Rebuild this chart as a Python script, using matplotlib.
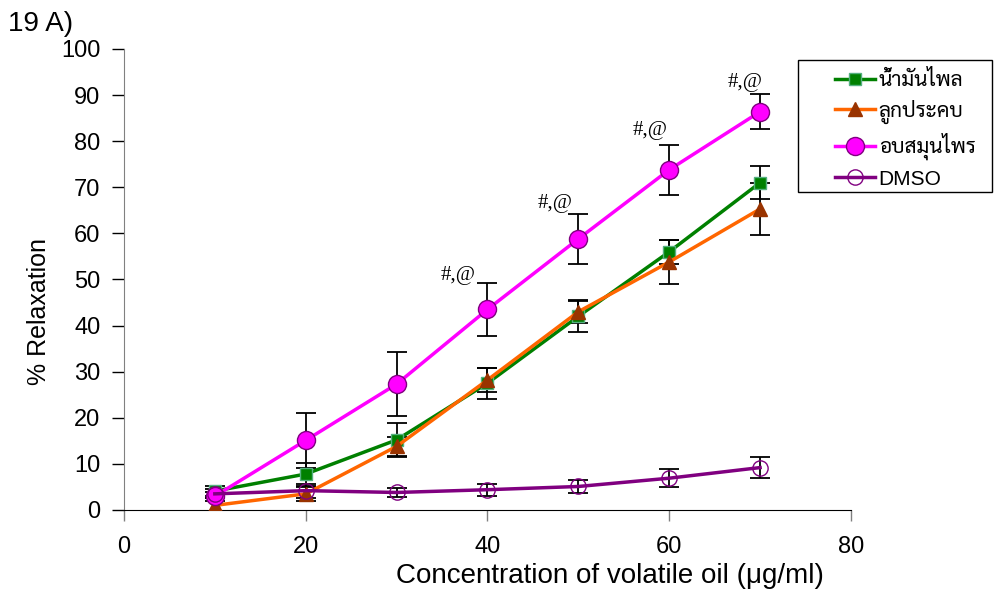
import numpy as np
import matplotlib.pyplot as plt
from matplotlib import font_manager
from matplotlib.ft2font import FT2Font
from matplotlib.patches import Rectangle

# หา font ที่มีตัวอักษรไทย
thai_names = set()
for f in font_manager.findSystemFonts():
    try:
        if 0x0E19 in FT2Font(f).get_charmap():
            thai_names.add(font_manager.FontProperties(fname=f).get_name())
    except Exception:
        pass
pref = ['Tahoma', 'Sarabun', 'Noto Sans Thai Looped', 'IBM Plex Sans Thai Looped',
        'Loma', 'Garuda', 'Noto Sans Thai', 'Anuphan']
thai_font = next((n for n in pref if n in thai_names), None)
if thai_font is None and thai_names:
    thai_font = sorted(thai_names)[0]

conc = [10, 20, 30, 40, 50, 60, 70]
names = ['น้ำมันไพล', 'ลูกประคบ', 'อบสมุนไพร', 'DMSO']

plai = [4.1, 7.8, 15.2, 27.5, 42.0, 56.0, 71.0]
plai_err = [1.0, 2.5, 3.6, 3.4, 3.4, 2.6, 3.6]
lukprakob = [1.0, 3.5, 13.8, 28.2, 43.0, 53.8, 65.3]
lukprakob_err = [1.5, 1.5, 2.0, 2.7, 2.5, 4.8, 5.6]
obsamunprai = [3.0, 15.1, 27.3, 43.5, 58.8, 73.8, 86.4]
obsamunprai_err = [1.0, 5.9, 7.0, 5.8, 5.4, 5.4, 3.8]
dmso = [3.5, 4.2, 3.8, 4.4, 5.1, 6.9, 9.2]
dmso_err = [1.0, 1.5, 1.0, 1.3, 1.4, 2.0, 2.3]

# ตำแหน่งเครื่องหมาย #,@
sig_x = [36.8, 47.4, 57.9, 68.4]
sig_y = [49.9, 65.5, 81.3, 91.8]

plt.rcParams['font.family'] = ['Liberation Sans', 'DejaVu Sans']

fig = plt.figure(figsize=(9.94, 5.9), dpi=100)
ax = fig.add_axes([0.1247, 0.1356, 0.7314, 0.7814])

series = [
    (plai, plai_err, dict(color='#008000', marker='s', ms=9, mfc='#008000', mec='#55b080')),
    (lukprakob, lukprakob_err, dict(color='#ff6600', marker='^', ms=10, mfc='#993300', mec='#993300')),
    (obsamunprai, obsamunprai_err, dict(color='#ff00ff', marker='o', ms=13, mfc='#ff00ff', mec='#800080')),
    (dmso, dmso_err, dict(color='#800080', marker='o', ms=11, mfc='none', mec='#800080')),
]
handles = []
for (vals, err, st), name in zip(series, names):
    ax.errorbar(conc, vals, yerr=err, fmt='none', ecolor='black', elinewidth=1.3,
                capsize=7, capthick=1.3, zorder=2)
    h, = ax.plot(conc, vals, lw=2.5, mew=1, label=name, zorder=3, **st)
    handles.append(h)

for x, y in zip(sig_x, sig_y):
    ax.text(x, y, '#,@', ha='center', va='baseline', fontsize=15,
            family='Liberation Serif')

ax.set_xlim(0, 80)
ax.set_ylim(0, 100)
ax.set_xticks(range(0, 81, 20))
ax.set_yticks(range(0, 101, 10))
ax.tick_params(labelsize=17, width=1)
ax.tick_params(axis='y', length=9, color='black', pad=8)
ax.tick_params(axis='x', length=8, color='#808080', pad=11)
ax.spines['top'].set_visible(False)
ax.spines['right'].set_visible(False)
ax.spines['left'].set_color('#808080')
ax.spines['bottom'].set_color('black')
ax.set_xlabel('Concentration of volatile oil (μg/ml)', fontsize=20)
ax.xaxis.set_label_coords(0.669, -0.115)
ax.set_ylabel('% Relaxation', fontsize=18)
ax.yaxis.set_label_coords(-0.1, 0.43)
fig.text(0.008, 0.982, '19 A)', fontsize=20, va='top', ha='left')

# กรอบ legend
fig.patches.append(Rectangle((798 / 994, 1 - 192 / 590), 194 / 994, 132 / 590,
                             transform=fig.transFigure, fill=False,
                             edgecolor='black', lw=1))
leg_fam = ['Liberation Sans', thai_font] if thai_font else ['DejaVu Sans']
leg = fig.legend(handles=handles, loc='upper left', bbox_to_anchor=(0.840, 0.881),
                 borderaxespad=0, frameon=False, borderpad=0,
                 prop={'family': leg_fam, 'size': 15}, handlelength=1.9,
                 handletextpad=0.2, labelspacing=0.45)

fig.savefig('out.png', dpi=100)
